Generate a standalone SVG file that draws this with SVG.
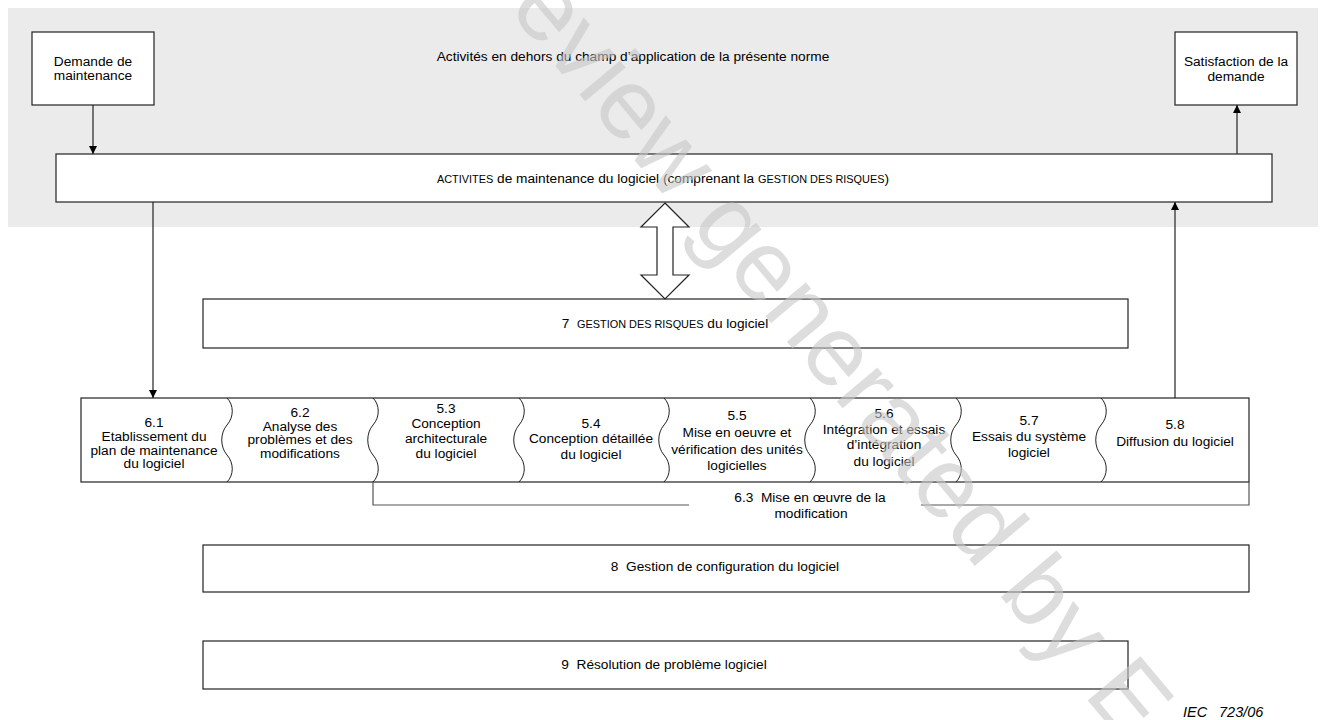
<svg xmlns="http://www.w3.org/2000/svg" width="1322" height="720" viewBox="0 0 1322 720">
<defs>
<marker id="ah" markerWidth="8" markerHeight="8" refX="8" refY="4" orient="auto" markerUnits="userSpaceOnUse">
<path d="M0,0 L8,4 L0,8 z" fill="#000"/>
</marker>
<style>
text{font-family:"Liberation Sans",Arial,sans-serif;font-size:13.7px;fill:#000}
.c{text-anchor:middle}
.sc{font-size:10.9px}
.box{fill:#fff;stroke:#222;stroke-width:1.2}
.ln{fill:none;stroke:#222;stroke-width:1.2}
.br{fill:none;stroke:#555;stroke-width:1.2}
.wv{fill:none;stroke:#222;stroke-width:1}
.wm{font-size:100px;fill:#c8c8c8;opacity:0.6}
</style>
</defs>
<rect width="1322" height="720" fill="#fff"/>
<rect id="scope" x="8" y="8" width="1310" height="219" fill="#ebebeb"/>
<text class="c" x="633" y="61">Activités en dehors du champ d’application de la présente norme</text>

<g id="demande">
<rect class="box" x="32" y="32" width="122" height="73"/>
<text class="c" x="93" y="66">Demande de</text>
<text class="c" x="93" y="80">maintenance</text>
</g>
<g id="satisfaction">
<rect class="box" x="1175" y="32" width="122" height="73"/>
<text class="c" x="1236" y="66">Satisfaction de la</text>
<text class="c" x="1236" y="81">demande</text>
</g>
<g id="activites">
<rect class="box" x="56" y="154" width="1216" height="48"/>
<text class="c" x="663" y="183" xml:space="preserve"><tspan class="sc">ACTIVITES</tspan> de maintenance du logiciel (comprenant la <tspan class="sc">GESTION DES RISQUES</tspan>)</text>
</g>
<g id="risques">
<rect class="box" x="203" y="299" width="925" height="49"/>
<text class="c" x="665" y="328" xml:space="preserve">7  <tspan class="sc">GESTION DES RISQUES</tspan> du logiciel</text>
</g>

<g id="processus">
<rect class="box" x="81" y="398" width="1168" height="84"/>
<path class="wv" d="M227,398 C234,405 234,417 227,425 C220,433 220,447 227,455 C234,463 234,475 227,482"/>
<path class="wv" d="M373,398 C380,405 380,417 373,425 C366,433 366,447 373,455 C380,463 380,475 373,482"/>
<path class="wv" d="M519,398 C526,405 526,417 519,425 C512,433 512,447 519,455 C526,463 526,475 519,482"/>
<path class="wv" d="M664,398 C671,405 671,417 664,425 C657,433 657,447 664,455 C671,463 671,475 664,482"/>
<path class="wv" d="M810,398 C817,405 817,417 810,425 C803,433 803,447 810,455 C817,463 817,475 810,482"/>
<path class="wv" d="M956,398 C963,405 963,417 956,425 C949,433 949,447 956,455 C963,463 963,475 956,482"/>
<path class="wv" d="M1101,398 C1108,405 1108,417 1101,425 C1094,433 1094,447 1101,455 C1108,463 1108,475 1101,482"/>
</g>
<g id="p61">
<text class="c" x="154" y="427">6.1</text>
<text class="c" x="154" y="441">Etablissement du</text>
<text class="c" x="154" y="455">plan de maintenance</text>
<text class="c" x="154" y="468">du logiciel</text>
</g>
<g id="p62">
<text class="c" x="300" y="417">6.2</text>
<text class="c" x="300" y="430.5">Analyse des</text>
<text class="c" x="300" y="444">problèmes et des</text>
<text class="c" x="300" y="457.5">modifications</text>
</g>
<g id="p53">
<text class="c" x="446" y="413">5.3</text>
<text class="c" x="446" y="428">Conception</text>
<text class="c" x="446" y="443">architecturale</text>
<text class="c" x="446" y="458">du logiciel</text>
</g>
<g id="p54">
<text class="c" x="591" y="427.5">5.4</text>
<text class="c" x="591" y="442.5">Conception détaillée</text>
<text class="c" x="591" y="458.5">du logiciel</text>
</g>
<g id="p55">
<text class="c" x="737" y="420">5.5</text>
<text class="c" x="737" y="437">Mise en oeuvre et</text>
<text class="c" x="737" y="453.5">vérification des unités</text>
<text class="c" x="737" y="470">logicielles</text>
</g>
<g id="p56">
<text class="c" x="884" y="418">5.6</text>
<text class="c" x="884" y="434">Intégration et essais</text>
<text class="c" x="884" y="448.5">d’intégration</text>
<text class="c" x="884" y="466">du logiciel</text>
</g>
<g id="p57">
<text class="c" x="1029" y="424.5">5.7</text>
<text class="c" x="1029" y="441">Essais du système</text>
<text class="c" x="1029" y="457">logiciel</text>
</g>
<g id="p58">
<text class="c" x="1175" y="428.5">5.8</text>
<text class="c" x="1175" y="446">Diffusion du logiciel</text>
</g>

<g id="p63">
<text class="c" x="810" y="502" xml:space="preserve">6.3  Mise en œuvre de la</text>
<text class="c" x="811" y="518">modification</text>
</g>
<g id="configuration">
<rect class="box" x="203" y="545" width="1046" height="47"/>
<text class="c" x="725" y="571" xml:space="preserve">8  Gestion de configuration du logiciel</text>
</g>
<g id="resolution">
<rect class="box" x="203" y="641" width="925" height="48"/>
<text class="c" x="664" y="668.5" xml:space="preserve">9  Résolution de problème logiciel</text>
</g>

<g id="connectors">
<line class="ln" x1="93" y1="105" x2="93" y2="154" marker-end="url(#ah)"/>
<line class="ln" x1="1237" y1="154" x2="1237" y2="105" marker-end="url(#ah)"/>
<line class="ln" x1="153" y1="202" x2="153" y2="398" marker-end="url(#ah)"/>
<line class="ln" x1="1175" y1="398" x2="1175" y2="202" marker-end="url(#ah)"/>
<polygon class="box" points="665,203 689,227 673,227 673,275 689,275 665,299 641,275 657,275 657,227 641,227"/>
<polyline class="br" points="373,482 373,505 689,505"/>
<polyline class="br" points="921,505 1249,505 1249,482"/>
</g>

<text x="1183" y="717" style="font-style:italic;font-size:14.5px">IEC<tspan x="1219">723/06</tspan></text>
<text class="wm" transform="translate(443,-68) rotate(50)">Preview generated by E</text>
</svg>
